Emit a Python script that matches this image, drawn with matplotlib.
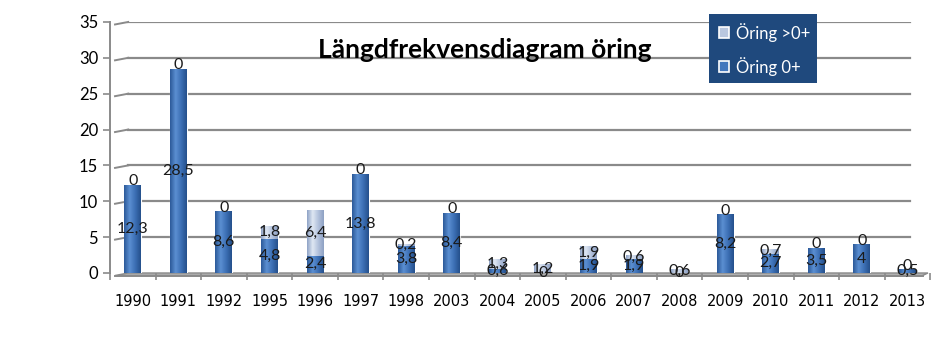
import numpy as np
import matplotlib.pyplot as plt
from matplotlib.patches import Polygon
from matplotlib.colors import LinearSegmentedColormap

plt.rcParams['font.family'] = ['Lato', 'DejaVu Sans']

years = ['1990', '1991', '1992', '1995', '1996', '1997', '1998', '2003', '2004',
         '2005', '2006', '2007', '2008', '2009', '2010', '2011', '2012', '2013']
oring_0 = [12.3, 28.5, 8.6, 4.8, 2.4, 13.8, 3.8, 8.4, 0.6,
           0, 1.9, 1.9, 0, 8.2, 2.7, 3.5, 4, 0.5]
oring_gt0 = [0, 0, 0, 1.8, 6.4, 0, 0.2, 0, 1.3,
             1.2, 1.9, 0.6, 0.6, 0, 0.7, 0, 0, 0]

def fmt(v):
    return ('%g' % v).replace('.', ',')

fig = plt.figure(figsize=(9.45, 3.42), dpi=100)
ax = fig.add_axes([0.1164, 0.2018, 0.868, 0.734])

x = np.arange(len(years))
w = 0.37
dark = '#4277bd'
light = '#b9c7df'
cm_dark = LinearSegmentedColormap.from_list('d', ['#2c5a99', '#5b8fd2', '#3c6fb4', '#25508c'])
cm_light = LinearSegmentedColormap.from_list('l', ['#8fa3c6', '#dfe7f3', '#b3c2dc', '#8ea1c3'])
grad = np.linspace(0, 1, 64).reshape(1, -1)

# gridlines with a little slant at the back wall
for yv in range(5, 36, 5):
    ax.plot([-0.39, -0.1], [yv - 0.35, yv], color='#8a8a8a', lw=1.4, clip_on=False, zorder=1)
    ax.plot([-0.1, 17.05], [yv, yv], color='#8a8a8a', lw=1.6, zorder=1)

# floor
floor = Polygon([[-0.39, -0.35], [-0.1, 0.0], [17.45, 0.0], [17.3, -0.45]],
                closed=True, facecolor='#b0b0b0', edgecolor='#8a8a8a', lw=1, zorder=1, clip_on=False)
ax.add_patch(floor)

b0 = ax.bar(x, oring_0, w, color=dark, edgecolor='white', lw=0.8, zorder=3)
b1 = ax.bar(x, oring_gt0, w, bottom=oring_0, color=light, edgecolor='white', lw=0.8, zorder=3)

# cylinder-like shading
for bars, cmap in [(b0, cm_dark), (b1, cm_light)]:
    for r in bars:
        if r.get_height() <= 0:
            continue
        x0, y0 = r.get_x(), r.get_y()
        im = ax.imshow(grad, cmap=cmap, aspect='auto', zorder=3.5,
                       extent=[x0, x0 + r.get_width(), y0, y0 + r.get_height()])
        im.set_clip_path(r)

for i in range(len(years)):
    b = oring_0[i]
    t = oring_gt0[i]
    ax.text(x[i], b / 2, fmt(b), ha='center', va='center', fontsize=11.5, color='#1a1a1a', zorder=5)
    ax.text(x[i], b + t / 2 + (0.5 if t == 0 else 0), fmt(t), ha='center', va='center',
            fontsize=11.5, color='#1a1a1a', zorder=5)

ax.set_xlim(-0.39, 17.32)
ax.set_ylim(0, 35)
ax.set_yticks(range(0, 36, 5))
ax.set_xticks(x)
ax.set_xticklabels(years, fontfamily=['Liberation Sans Narrow', 'DejaVu Sans'])
ax.set_xticks(np.arange(-0.5, 17.6, 1), minor=True)
ax.tick_params(axis='x', which='major', length=0, labelsize=10.5, pad=15)
ax.tick_params(axis='x', which='minor', length=5, color='#8a8a8a', width=1.2)
ax.tick_params(axis='y', labelsize=12, length=5, color='#8a8a8a', width=1.2)

for s in ['top', 'right', 'bottom']:
    ax.spines[s].set_visible(False)
ax.spines['left'].set_color('#8a8a8a')
ax.spines['left'].set_linewidth(1.4)
ax.plot([-0.39, 17.35], [-0.45, -0.45], color='#8a8a8a', lw=1.4, clip_on=False, zorder=2)

fig.text(0.513, 0.855, 'Längdfrekvensdiagram öring', ha='center', va='center',
         fontsize=19, fontweight='bold', color='black')

# legend box
lg = fig.add_axes([0.750, 0.757, 0.115, 0.202])
lg.set_facecolor('#1f497d')
lg.set_xticks([])
lg.set_yticks([])
for s in lg.spines.values():
    s.set_visible(False)
lg.set_xlim(0, 1)
lg.set_ylim(0, 1)
for yy, lab, c in [(0.73, 'Öring >0+', light), (0.24, 'Öring 0+', dark)]:
    lg.add_patch(plt.Rectangle((0.09, yy - 0.08), 0.1, 0.16, facecolor=c, edgecolor='white', lw=1.2))
    lg.text(0.25, yy, lab, color='white', fontsize=12, va='center', ha='left')

fig.savefig('out.png', dpi=100)
